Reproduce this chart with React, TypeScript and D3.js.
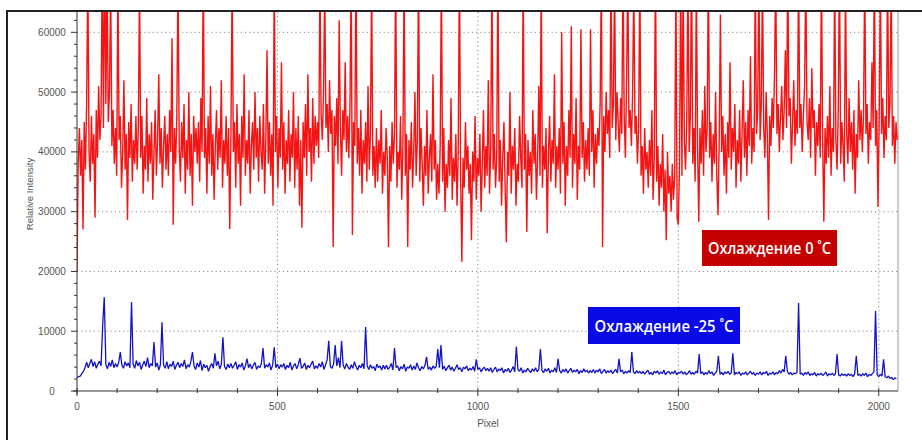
import React, { useEffect, useRef } from "react";
import * as d3 from "d3";

// values are in thousands of counts
const unit = 1000;

// red trace, cooling 0 C, one value every 3 pixels
const redStep = 3;
const red0C = [
  20, 38, 44, 36, 42, 27, 45, 37, 48, 70, 40, 35, 46, 38, 43, 29, 47, 39, 51, 42, 46, 72, 44, 75, 48,
  70, 45, 50, 68, 41, 47, 38, 44, 36, 70, 42, 46, 34, 40, 52, 37, 43, 28.6, 45, 39, 48, 35, 42, 38, 46,
  37, 44, 68, 39, 46, 33, 41, 37, 49, 35, 43, 38, 45, 32, 40, 47, 36, 42, 53, 38, 44, 34, 41, 46, 37,
  43, 36, 47, 40, 59, 27.8, 44, 38, 46, 70, 41, 35, 45, 39, 48, 33, 42, 37, 50, 36, 43, 31, 46, 40, 44,
  38, 45, 35, 49, 40, 72, 39, 44, 33, 46, 38, 51, 36, 43, 32, 41, 47, 37, 44, 39, 52, 34, 42, 38, 46,
  36, 44, 27.1, 43, 69, 40, 45, 34, 48, 38, 43, 31, 46, 39, 53, 36, 42, 38, 47, 33, 41, 45, 37, 50, 39,
  44, 35, 46, 40, 37, 48, 33, 42, 57, 38, 45, 36, 43, 31, 70, 40, 46, 34, 44, 39, 55, 37, 45, 33, 42,
  38, 47, 35, 43, 39, 50, 34, 44, 37, 46, 31, 42, 27.3, 45, 39, 48, 36, 53, 40, 44, 35, 49, 38, 46, 41,
  45, 39, 70, 46, 42, 50, 68, 44, 48, 40, 52, 43, 47, 24.1, 46, 41, 49, 38, 62, 44, 36, 47, 42, 55, 40,
  46, 39, 48, 70, 26.1, 45, 41, 73, 38, 44, 36, 47, 33, 42, 38, 45, 35, 51, 37, 43, 69, 36, 41, 34, 44,
  35, 42, 38, 47, 33, 40, 36, 44, 39, 24.1, 41, 35, 45, 38, 43, 71, 34, 40, 37, 46, 32, 41, 70, 36, 43,
  24.1, 42, 37, 45, 34, 40, 50, 36, 42, 72, 35, 44, 38, 31, 41, 36, 47, 33, 39, 43, 35, 53, 37, 42, 32,
  38, 33, 41, 70, 35, 44, 30, 38, 34, 42, 36, 49, 32, 39, 35, 43, 31, 40, 72, 36, 21.6, 39, 34, 45, 37,
  41, 33, 38, 25.2, 40, 35, 46, 32, 39, 36, 43, 30, 38, 47, 34, 41, 36, 52, 33, 40, 70, 37, 43, 34, 39,
  72, 35, 42, 31, 39, 45, 34, 24.9, 40, 36, 50, 33, 41, 37, 44, 31, 38, 35, 46, 39, 34, 70, 37, 43, 26.6,
  42, 36, 40, 33, 47, 38, 43, 32, 39, 51, 36, 69, 34, 41, 37, 44, 26.4, 40, 46, 35, 42, 38, 53, 34, 41,
  37, 44, 33, 60, 38, 45, 31, 41, 36, 47, 39, 61, 34, 43, 38, 49, 32, 41, 37, 60.5, 39, 45, 35, 42, 37,
  44, 36, 60.5, 40, 47, 34, 43, 38, 44, 41, 48, 70, 24.1, 46, 40, 50, 43, 47, 39, 71, 44, 48, 69, 42, 50,
  45, 40, 49, 43, 72, 46, 39, 52, 70, 44, 47, 41, 50, 68, 43, 46, 38, 44, 70, 36, 41, 33, 44, 37, 40,
  34, 42, 36, 47, 32, 39, 72, 35, 41, 31, 38, 34, 43, 30, 37, 25.2, 40, 33, 36, 30, 38, 32, 36, 69, 29,
  27.8, 38, 71, 36, 70, 42, 37, 45, 70, 40, 46, 73, 38, 44, 35, 70, 41, 28.3, 44, 38, 47, 36, 51, 40, 44,
  72, 39, 45, 35, 43, 38, 50, 36, 29.4, 42, 63, 40, 46, 36, 43, 33, 45, 39, 55, 37, 44, 40, 48, 34, 42,
  38, 47, 35, 43, 52, 39, 45, 36, 47, 41, 56, 38, 44, 40, 70, 43, 47, 71, 42, 48, 69, 44, 39, 50, 43,
  28.6, 46, 41, 49, 44, 53, 70, 43, 48, 40, 46, 51, 42, 47, 57, 44, 72, 46, 49, 38, 45, 52, 41, 47, 43,
  71, 44, 48, 40, 46, 51, 70, 45, 42, 49, 39, 54, 44, 47, 36, 45, 41, 48, 39, 71, 42, 28.3, 44, 38, 46,
  39, 51, 36, 44, 40, 70, 42, 37, 47, 72, 38, 45, 41, 35, 69, 43, 38, 49, 40, 45, 37, 47, 33, 43, 39,
  52, 42, 47, 40, 46, 70, 43, 48, 38, 45, 42, 55, 44, 71, 41, 47, 30.8, 45, 70, 43, 49, 39, 46, 42, 71,
  44, 48, 69, 41, 46, 38, 45, 42,
];

// blue trace, cooling -25 C, one value every 4 pixels
const blueStep = 4;
const blueMinus25C = [
  2.2, 2.4, 2.5, 2.9, 3.3, 3.9, 4.8, 3.9, 4.6, 5.3, 4.1, 4.9, 3.8, 4.5, 5.0, 4.2, 11.0, 15.7, 4.4, 3.7, 4.8, 4.1, 5.2, 3.9, 4.6, 4.0, 4.8, 6.5, 4.3, 3.8, 4.9, 4.2,
  4.7, 3.9, 14.9, 4.5, 3.8, 5.1, 4.2, 4.8, 3.6, 4.4, 5.0, 4.1, 5.6, 3.9, 4.6, 4.2, 8.2, 4.0, 4.7, 3.5, 4.4, 11.5, 4.3, 3.8, 4.9, 3.7, 4.5, 4.1, 5.0, 3.6, 4.3, 4.8,
  3.9, 4.6, 4.1, 5.2, 3.7, 4.4, 4.0, 4.9, 6.5, 4.2, 3.6, 4.7, 4.0, 5.1, 3.4, 4.5, 3.9, 4.3, 3.3, 4.1, 4.6, 3.8, 6.3, 4.2, 5.0, 3.7, 4.4, 9.0, 4.1, 3.6, 4.5, 3.9,
  4.6, 3.8, 4.3, 4.9, 3.6, 4.4, 4.0, 4.7, 3.5, 4.2, 5.4, 3.9, 4.5, 3.7, 4.3, 4.8, 3.6, 4.2, 3.9, 4.6, 7.2, 3.8, 4.4, 4.0, 4.7, 3.5, 4.3, 7.3, 3.9, 4.5, 3.7, 4.4,
  4.0, 4.6, 3.6, 4.3, 3.9, 4.8, 3.5, 4.2, 4.6, 3.7, 4.4, 5.5, 3.8, 4.1, 4.7, 3.6, 4.3, 3.9, 4.5, 5.0, 3.7, 4.2, 3.8, 4.6, 4.0, 4.9, 3.6, 4.4, 5.2, 8.4, 4.1, 3.8,
  4.5, 7.7, 4.2, 5.6, 3.9, 8.4, 4.3, 3.7, 4.6, 4.0, 3.6, 4.4, 3.8, 4.9, 4.1, 3.5, 4.3, 3.9, 4.6, 3.7, 10.7, 4.2, 3.6, 4.4, 3.8, 4.1, 3.4, 4.5, 3.9, 4.2, 3.5, 4.3,
  3.7, 4.3, 3.6, 4.0, 4.6, 3.5, 7.2, 3.9, 4.2, 3.4, 4.1, 3.7, 4.5, 3.3, 4.0, 3.8, 4.4, 3.5, 4.2, 3.6, 4.7, 3.9, 3.4, 4.1, 3.7, 4.3, 5.7, 3.6, 4.0, 3.5, 4.2, 3.8,
  4.1, 7.0, 3.9, 7.7, 3.6, 4.2, 3.4, 3.9, 4.3, 3.5, 4.0, 3.3, 3.8, 4.4, 3.6, 3.9, 3.2, 4.0, 3.7, 4.2, 3.4, 3.8, 3.5, 4.1, 3.3, 5.3, 3.6, 3.9, 3.2, 3.7, 4.0, 3.4,
  3.8, 3.3, 3.9, 3.1, 3.6, 4.0, 3.2, 3.7, 3.4, 3.9, 3.0, 3.6, 3.3, 3.8, 3.1, 3.5, 4.1, 3.2, 7.4, 3.6, 3.3, 3.9, 3.0, 3.5, 3.2, 3.8, 3.4, 3.1, 3.7, 3.3, 3.9, 3.2,
  3.6, 7.0, 3.4, 3.1, 3.7, 3.3, 3.8, 3.0, 3.5, 3.2, 3.9, 3.1, 5.4, 3.4, 3.0, 3.6, 3.2, 3.7, 3.0, 3.4, 3.8, 3.1, 3.5, 3.2, 3.6, 2.9, 3.4, 3.1, 3.7, 3.2, 3.5, 3.0,
  3.4, 3.1, 3.6, 3.0, 3.5, 3.2, 3.7, 2.9, 3.3, 3.6, 3.0, 3.4, 3.1, 3.5, 2.9, 3.3, 3.6, 3.0, 5.4, 3.2, 3.5, 2.9, 3.3, 3.0, 3.4, 3.1, 6.5, 3.2, 2.9, 3.4, 3.0, 3.3,
  2.9, 3.3, 2.8, 3.2, 3.5, 2.8, 3.1, 2.7, 3.3, 3.0, 3.4, 2.8, 3.2, 2.9, 3.5, 2.7, 3.1, 3.3, 2.8, 3.2, 2.9, 3.4, 2.7, 3.1, 3.0, 3.3, 2.8, 3.2, 2.7, 3.0, 3.4, 2.8,
  3.1, 2.8, 3.3, 3.0, 6.2, 2.9, 3.2, 2.7, 3.1, 2.8, 3.4, 2.9, 3.2, 2.6, 3.0, 3.3, 5.9, 2.8, 3.1, 2.7, 3.2, 2.9, 3.3, 2.8, 3.0, 6.3, 2.7, 3.1, 2.9, 3.2, 2.6, 3.0,
  2.8, 3.2, 2.7, 3.0, 3.3, 2.8, 3.1, 2.6, 3.0, 2.8, 3.2, 2.7, 3.1, 2.9, 3.3, 2.6, 3.0, 2.8, 3.2, 2.7, 3.1, 2.9, 3.4, 3.0, 3.6, 3.2, 5.9, 3.3, 2.8, 3.1, 2.7, 3.0,
  2.9, 3.1, 14.7, 2.8, 3.0, 2.6, 3.1, 2.8, 3.2, 2.6, 2.9, 2.7, 3.1, 2.5, 2.9, 2.7, 3.0, 2.6, 2.8, 3.2, 2.5, 2.9, 2.7, 3.0, 2.6, 2.9, 6.2, 2.7, 2.5, 2.9, 2.6, 2.8,
  2.5, 2.9, 2.6, 2.8, 2.4, 2.9, 5.9, 2.6, 2.8, 2.5, 2.9, 2.6, 3.0, 2.4, 2.8, 2.6, 2.9, 3.2, 13.4, 2.7, 2.4, 2.8, 2.5, 5.3, 2.4, 2.2, 2.5, 2.1, 2.3, 1.9, 2.2, 2.0,
];

const yTicks = [0, 10000, 20000, 30000, 40000, 50000, 60000];
const xTicks = [0, 500, 1000, 1500, 2000];
const legendLabels = ["Охлаждение 0 ˚C", "Охлаждение -25 ˚C"];

const width = 922;
const height = 440;
const plot = { left: 77, right: 898, top: 12, bottom: 391 };

export default function App() {
  const ref = useRef<SVGSVGElement>(null);

  useEffect(() => {
    const svg = d3.select(ref.current);
    svg.selectAll("*").remove();

    const x = d3.scaleLinear().domain([0, 2048]).range([plot.left, plot.right]);
    const y = d3.scaleLinear().domain([0, 63400]).range([plot.bottom, plot.top]);

    // frame
    svg
      .append("path")
      .attr("d", `M7,${height} L7,11 L${width},11`)
      .attr("fill", "none")
      .attr("stroke", "#222")
      .attr("stroke-width", 2);

    // grid
    const grid = svg.append("g").attr("stroke", "#8a8a8a").attr("stroke-dasharray", "1.2 3");
    grid
      .selectAll("line.h")
      .data(yTicks.filter((d) => d > 0))
      .enter()
      .append("line")
      .attr("x1", plot.left)
      .attr("x2", plot.right)
      .attr("y1", (d) => y(d))
      .attr("y2", (d) => y(d));
    grid
      .selectAll("line.v")
      .data(xTicks.filter((d) => d > 0))
      .enter()
      .append("line")
      .attr("x1", (d) => x(d))
      .attr("x2", (d) => x(d))
      .attr("y1", plot.top)
      .attr("y2", plot.bottom);

    svg
      .append("line")
      .attr("x1", plot.right)
      .attr("x2", plot.right)
      .attr("y1", plot.top)
      .attr("y2", plot.bottom)
      .attr("stroke", "#999");

    svg
      .append("clipPath")
      .attr("id", "plotclip")
      .append("rect")
      .attr("x", plot.left)
      .attr("y", plot.top)
      .attr("width", plot.right - plot.left)
      .attr("height", plot.bottom - plot.top);

    const lineRed = d3
      .line<number>()
      .x((d, i) => x(i * redStep))
      .y((d) => y(d * unit));
    const lineBlue = d3
      .line<number>()
      .x((d, i) => x(i * blueStep))
      .y((d) => y(d * unit));

    const traces = svg.append("g").attr("clip-path", "url(#plotclip)");
    traces
      .append("path")
      .datum(red0C)
      .attr("d", lineRed)
      .attr("fill", "none")
      .attr("stroke", "#f41414")
      .attr("stroke-width", 1.4)
      .attr("stroke-linejoin", "bevel");
    traces
      .append("path")
      .datum(blueMinus25C)
      .attr("d", lineBlue)
      .attr("fill", "none")
      .attr("stroke", "#1414c4")
      .attr("stroke-width", 1.3)
      .attr("stroke-linejoin", "bevel");

    // axes
    const axis = svg.append("g").attr("stroke", "#333").attr("stroke-width", 1);
    axis.append("line").attr("x1", plot.left).attr("x2", plot.left).attr("y1", plot.top).attr("y2", plot.bottom + 3);
    axis.append("line").attr("x1", plot.left - 4).attr("x2", plot.right).attr("y1", plot.bottom).attr("y2", plot.bottom);

    axis
      .selectAll("line.ym")
      .data(d3.range(0, 63400, 2000))
      .enter()
      .append("line")
      .attr("x1", (d) => (d % 10000 === 0 ? plot.left - 6 : plot.left - 3))
      .attr("x2", plot.left)
      .attr("y1", (d) => y(d))
      .attr("y2", (d) => y(d));

    axis
      .selectAll("line.xm")
      .data(d3.range(0, 2049, 100))
      .enter()
      .append("line")
      .attr("x1", (d) => x(d))
      .attr("x2", (d) => x(d))
      .attr("y1", plot.bottom - 3)
      .attr("y2", (d) => (d % 500 === 0 ? plot.bottom + 5 : plot.bottom + 2));

    const labelStyle = (s: d3.Selection<SVGTextElement, any, any, any>) =>
      s.attr("font-family", "Liberation Sans, Arial, sans-serif").attr("font-size", 10).attr("fill", "#555");

    svg
      .selectAll("text.yl")
      .data(yTicks)
      .enter()
      .append("text")
      .attr("x", 52)
      .attr("y", (d) => y(d))
      .attr("dy", "0.35em")
      .attr("text-anchor", "middle")
      .text((d) => String(d))
      .call(labelStyle);

    svg
      .selectAll("text.xl")
      .data(xTicks)
      .enter()
      .append("text")
      .attr("x", (d) => x(d))
      .attr("y", 406)
      .attr("dy", "0.35em")
      .attr("text-anchor", "middle")
      .text((d) => String(d))
      .call(labelStyle);

    svg
      .append("text")
      .attr("x", 488)
      .attr("y", 423)
      .attr("dy", "0.35em")
      .attr("text-anchor", "middle")
      .text("Pixel")
      .call(labelStyle);

    svg
      .append("text")
      .attr("transform", "translate(30,194) rotate(-90)")
      .attr("dy", "0.35em")
      .attr("text-anchor", "middle")
      .text("Relative Intensity")
      .call(labelStyle)
      .attr("font-size", 9.5);

    // legend boxes
    const boxes = [
      { label: legendLabels[0], fill: "#c40000", x0: 702, y0: 230, w: 135, h: 36, tl: 123 },
      { label: legendLabels[1], fill: "#0a0ae6", x0: 588, y0: 307, w: 152, h: 37, tl: 139 },
    ];
    boxes.forEach((b) => {
      svg.append("rect").attr("x", b.x0).attr("y", b.y0).attr("width", b.w).attr("height", b.h).attr("fill", b.fill);
      svg
        .append("text")
        .attr("x", b.x0 + b.w / 2)
        .attr("y", b.y0 + b.h / 2)
        .attr("dy", "0.36em")
        .attr("text-anchor", "middle")
        .attr("font-family", "Open Sans, sans-serif")
        .attr("font-weight", 600)
        .attr("font-size", 17)
        .attr("fill", "#fff")
        .attr("textLength", b.tl)
        .attr("lengthAdjust", "spacingAndGlyphs")
        .text(b.label);
    });
  }, []);

  return (
    <svg
      ref={ref}
      width={width}
      height={height}
      style={{ position: "absolute", left: 0, top: 0, background: "#fff" }}
    />
  );
}
